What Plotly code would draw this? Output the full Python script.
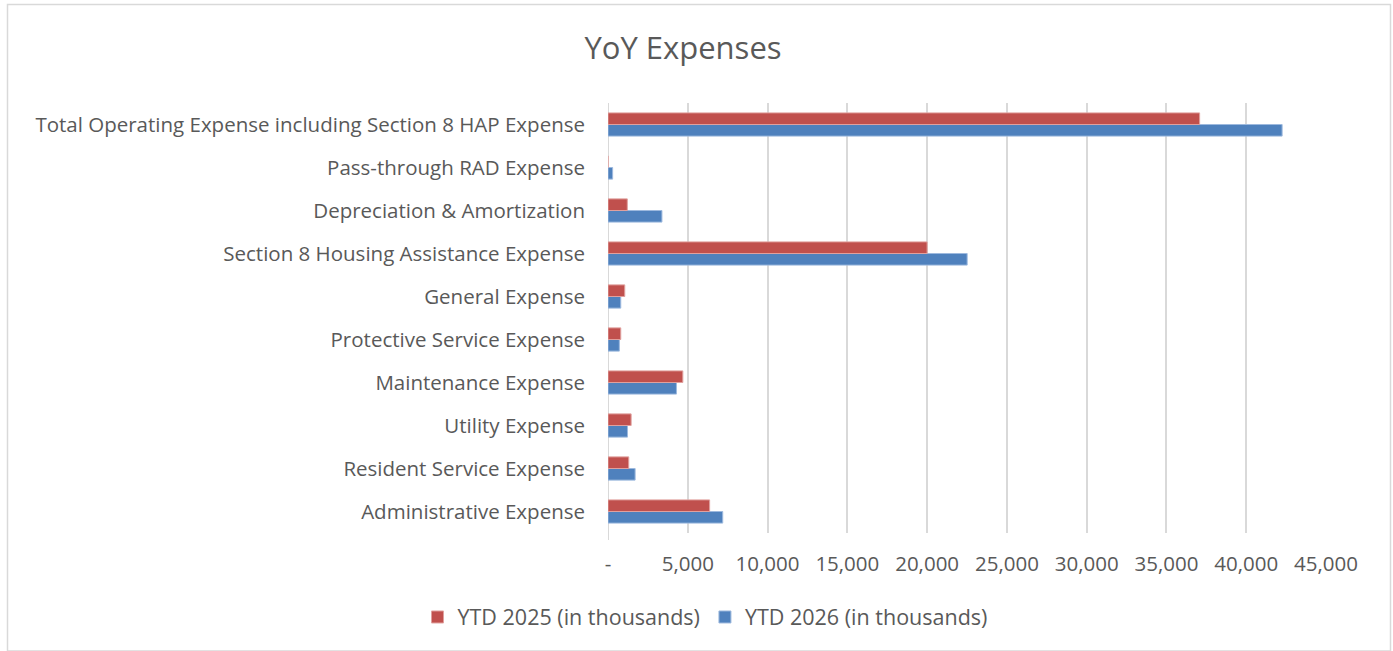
import plotly.graph_objects as go

categories = [
    "Administrative Expense",
    "Resident Service Expense",
    "Utility Expense",
    "Maintenance Expense",
    "Protective Service Expense",
    "General Expense",
    "Section 8 Housing Assistance Expense",
    "Depreciation & Amortization",
    "Pass-through RAD Expense",
    "Total Operating Expense including Section 8 HAP Expense",
]
ytd_2025 = [6370, 1300, 1450, 4690, 800, 1050, 20000, 1210, 0, 37080]
ytd_2026 = [7190, 1700, 1220, 4290, 710, 800, 22510, 3380, 290, 42250]
tick_vals = [0, 5000, 10000, 15000, 20000, 25000, 30000, 35000, 40000, 45000]
tick_text = ["-", "5,000", "10,000", "15,000", "20,000", "25,000", "30,000", "35,000", "40,000", "45,000"]

W, H = 1393, 651
L, R, T, B = 608, 1326, 103, 533

font_family = "'Open Sans', sans-serif"
txt = "#595959"

fig = go.Figure()
fig.add_trace(go.Bar(
    y=categories, x=ytd_2026, orientation="h", name="YTD 2026 (in thousands)",
    marker=dict(color="#4F81BD", line=dict(color="#9DB9DE", width=1)),
))
fig.add_trace(go.Bar(
    y=categories, x=ytd_2025, orientation="h", name="YTD 2025 (in thousands)",
    marker=dict(color="#C0504D", line=dict(color="#E0A09E", width=1)),
))

pw, ph = R - L, B - T
def px_to_paper_x(px):
    return (px - L) / pw
def px_to_paper_y(py):
    return (B - py) / ph

fig.update_layout(
    width=W, height=H,
    margin=dict(l=L, r=W - R, t=T, b=H - B, autoexpand=False),
    paper_bgcolor="white", plot_bgcolor="white",
    barmode="group", bargap=0.46, bargroupgap=0,
    font=dict(family=font_family, color=txt, size=20.5),
    title=dict(text="YoY Expenses", x=683 / W, xanchor="center",
               y=1 - 48 / H, yanchor="middle",
               font=dict(size=31, color=txt, family=font_family)),
    xaxis=dict(range=[0, 45000], tickvals=tick_vals, ticktext=tick_text,
               showgrid=True, gridcolor="#D9D9D9", gridwidth=2,
               zeroline=False, showline=False, ticks="",
               tickfont=dict(size=20.5, color=txt), ticklabelstandoff=16),
    yaxis=dict(showgrid=False, zeroline=False, showline=False, ticks="",
               tickfont=dict(size=20.5, color=txt), ticklabelstandoff=22),
    legend=dict(orientation="h", traceorder="reversed",
                x=px_to_paper_x(705), xanchor="center",
                y=px_to_paper_y(617), yanchor="middle",
                font=dict(size=21.5, color=txt), itemwidth=30,
                bgcolor="rgba(0,0,0,0)"),
    showlegend=True,
    shapes=[
        dict(type="line", xref="x", yref="paper", x0=0, x1=0, y0=px_to_paper_y(540), y1=1,
             line=dict(color="#D9D9D9", width=2), layer="below"),
        dict(type="rect", xref="paper", yref="paper",
             x0=px_to_paper_x(7.5), x1=px_to_paper_x(1390.5),
             y0=px_to_paper_y(651), y1=px_to_paper_y(4.5),
             line=dict(color="#D9D9D9", width=1.5), fillcolor="rgba(0,0,0,0)"),
    ],
)

fig.write_html("out.html")
